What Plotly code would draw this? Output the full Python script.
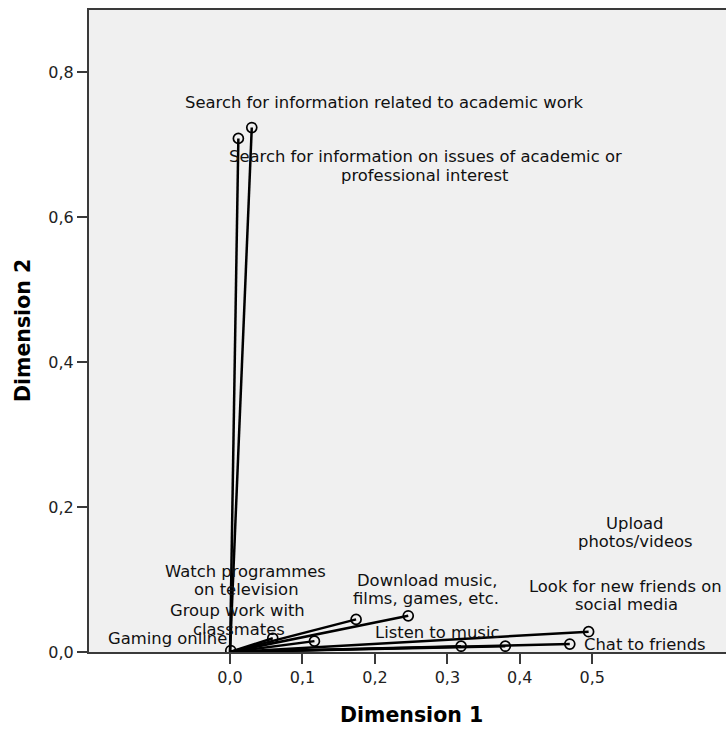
import plotly.graph_objects as go

# Discrimination measures (Dimension 1, Dimension 2)
dim1 = [0.030, 0.0115, 0.246, 0.174, 0.1165, 0.059, 0.001, 0.319, 0.380, 0.495, 0.469]
dim2 = [0.724, 0.709, 0.050, 0.045, 0.015, 0.019, 0.002, 0.008, 0.008, 0.028, 0.011]

# Label lines as they appear in the chart
label_text = [
    "Search for information related to academic work",
    "Search for information on issues of academic or",
    "professional interest",
    "Watch programmes",
    "on television",
    "Group work with",
    "classmates",
    "Gaming online",
    "Download music,",
    "films, games, etc.",
    "Listen to music",
    "Upload",
    "photos/videos",
    "Look for new friends on",
    "social media",
    "Chat to friends",
]
# label placement (data coordinates of each line centre)
label_pos = [
    (0.2119, 0.758), (0.2692, 0.684), (0.2692, 0.658),
    (0.0207, 0.1114), (0.0228, 0.0861),
    (0.0104, 0.0576), (0.0117, 0.0313),
    (-0.0863, 0.0185),
    (0.2713, 0.099), (0.2699, 0.0737),
    (0.2853, 0.0276),
    (0.5587, 0.178), (0.5591, 0.1532),
    (0.5453, 0.0911), (0.5473, 0.0658),
    (0.5729, 0.0106),
]

x_ticks = [0.0, 0.1, 0.2, 0.3, 0.4, 0.5]
y_ticks = [0.0, 0.2, 0.4, 0.6, 0.8]

FONT = "DejaVu Sans"
AXC = "#3a3a3a"

lx, ly = [], []
for a, b in zip(dim1, dim2):
    lx += [0, a, None]
    ly += [0, b, None]

fig = go.Figure()
fig.add_trace(go.Scatter(x=lx, y=ly, mode="lines",
                         line=dict(color="black", width=2.5),
                         hoverinfo="skip", showlegend=False))
fig.add_trace(go.Scatter(x=dim1, y=dim2, mode="markers",
                         marker=dict(symbol="circle-open", size=10,
                                     line=dict(color="black", width=1.7),
                                     color="black"),
                         showlegend=False))

for t, (x, y) in zip(label_text, label_pos):
    fig.add_annotation(x=x, y=y, text=t, showarrow=False,
                       xanchor="center", yanchor="middle",
                       font=dict(family=FONT, size=16.4, color="#111"))

fig.add_annotation(xref="paper", yref="paper", x=(411 - 89) / 637, y=-(715 - 652) / 642,
                   text="<b>Dimension 1</b>", showarrow=False,
                   xanchor="center", yanchor="middle",
                   font=dict(family=FONT, size=20.5, color="black"))
fig.add_annotation(xref="paper", yref="paper", x=-(89 - 23) / 637, y=(652 - 331) / 642,
                   text="<b>Dimension 2</b>", showarrow=False, textangle=-90,
                   xanchor="center", yanchor="middle",
                   font=dict(family=FONT, size=20.5, color="black"))

px_per_unit = 724.4
x0 = -0.1947
fig.update_layout(
    width=726, height=729,
    margin=dict(l=89, r=0, t=10, b=77, pad=0),
    paper_bgcolor="white", plot_bgcolor="#f0f0f0",
    separators=", ",
    xaxis=dict(range=[x0, x0 + 637 / px_per_unit], tickvals=x_ticks, tickformat=".1f",
               showgrid=False, zeroline=False, showline=True, mirror=True,
               linecolor=AXC, linewidth=2, ticks="outside", ticklen=10, tickwidth=2,
               tickcolor=AXC, tickfont=dict(family=FONT, size=16, color="#222")),
    yaxis=dict(range=[0, 642 / px_per_unit], tickvals=y_ticks, tickformat=".1f",
               showgrid=False, zeroline=False, showline=True, mirror=False,
               linecolor=AXC, linewidth=2, ticks="outside", ticklen=10, tickwidth=2,
               tickcolor=AXC, tickfont=dict(family=FONT, size=16, color="#222")),
)

fig.write_html("out.html")
